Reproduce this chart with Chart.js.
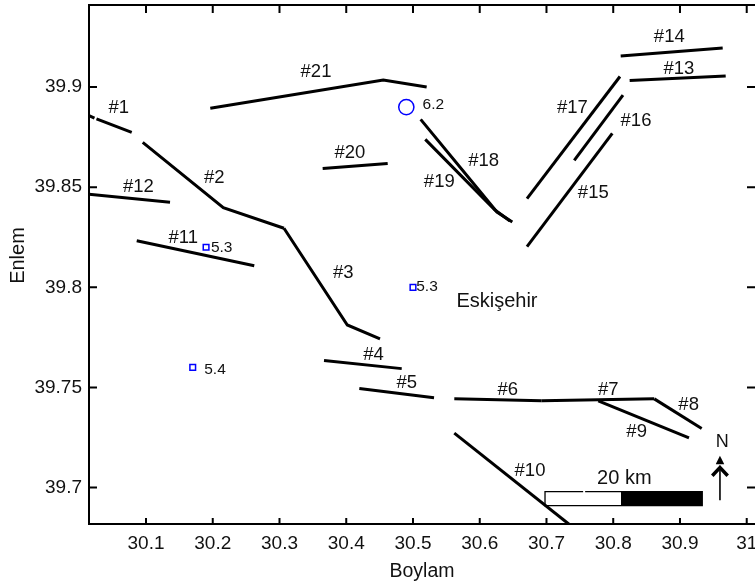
<!DOCTYPE html>
<html>

<head>
  <title>Eskisehir Faults</title>
  <script src="https://cdn.jsdelivr.net/npm/chart.js@4"></script>
  <style>
    html, body { margin: 0; padding: 0; background: #fff; }
    canvas { display: block; }
  </style>
</head>

<body>
  <canvas id="faultMap" width="755" height="583"></canvas>

  <script>
    const xTicks = [30.1, 30.2, 30.3, 30.4, 30.5, 30.6, 30.7, 30.8, 30.9, 31];
    const yTicks = [39.7, 39.75, 39.8, 39.85, 39.9];

    // fault traces, [boylam, enlem]; null leaves the small break in #1
    const fault1 = [[30.0146, 39.8857], [30.0228, 39.8845], [30.024, null], [30.0258, 39.8841], [30.0786, 39.8774]];
    const fault2 = [[30.0951, 39.8724], [30.2158, 39.8398], [30.3067, 39.8295]];
    const fault3 = [[30.3067, 39.8295], [30.4016, 39.7812], [30.4506, 39.7743]];
    const fault4 = [[30.3667, 39.7634], [30.4831, 39.7594]];
    const fault5 = [[30.4196, 39.7495], [30.5315, 39.7448]];
    const fault6 = [[30.5619, 39.7443], [30.6928, 39.7433]];
    const fault7 = [[30.6928, 39.7433], [30.7776, 39.7438], [30.8615, 39.7443]];
    const fault8 = [[30.8615, 39.7443], [30.9325, 39.7295]];
    const fault9 = [[30.7776, 39.7433], [30.9135, 39.7248]];
    const fault10 = [[30.5619, 39.7272], [30.7352, 39.6813]];
    const fault11 = [[30.0861, 39.8233], [30.2622, 39.8108]];
    const fault12 = [[30.0146, 39.8465], [30.136, 39.8425]];
    const fault13 = [[30.8246, 39.9033], [30.9685, 39.9055]];
    const fault14 = [[30.8112, 39.9155], [30.964, 39.9195]];
    const fault15 = [[30.6708, 39.8203], [30.7986, 39.8769]];
    const fault16 = [[30.7416, 39.8634], [30.8146, 39.896]];
    const fault17 = [[30.6708, 39.8443], [30.8101, 39.9053]];
    const fault18 = [[30.5115, 39.8839], [30.6258, 39.8376], [30.6488, 39.8326]];
    const fault19 = [[30.5184, 39.8739], [30.6229, 39.8386], [30.6453, 39.8331]];
    const fault20 = [[30.3647, 39.8594], [30.4621, 39.8619]];
    const fault21 = [[30.1963, 39.8894], [30.4555, 39.9035], [30.5205, 39.9001]];
    const faults = [fault1, fault2, fault3, fault4, fault5, fault6, fault7, fault8, fault9, fault10, fault11,
      fault12, fault13, fault14, fault15, fault16, fault17, fault18, fault19, fault20, fault21];

    // earthquakes
    const bigQuake = [[30.49, 39.89]];
    const smallQuakes = [[30.19, 39.82], [30.5, 39.8], [30.17, 39.76]];

    // scale bar and north arrow
    const barOutline = [[30.7579, 39.698], [30.9334, 39.698], [30.9334, 39.691], [30.6978, 39.691], [30.6978, 39.698], [30.7549, 39.698]];
    const barBlack = [[30.8116, 39.698], [30.9334, 39.698]];
    const barStreak = [[30.8116, 39.691], [30.9334, 39.698]];
    const arrowStem = [[30.9599, 39.6936], [30.9599, 39.7109]];
    const arrowHead = [[30.9535, 39.7117], [30.9599, 39.7159], [30.9664, 39.7117]];
    const arrowWings = [[30.9484, 39.7059], [30.9599, 39.71], [30.9715, 39.7059]];

    const faultNames = ['#1', '#2', '#3', '#4', '#5', '#6', '#7', '#8', '#9', '#10', '#11',
      '#12', '#13', '#14', '#15', '#16', '#17', '#18', '#19', '#20', '#21'];
    const faultNameAt = [[30.0591, 39.8894], [30.2023, 39.8544], [30.3956, 39.807], [30.4408, 39.7663],
      [30.4906, 39.7521], [30.6419, 39.7488], [30.7926, 39.7488], [30.913, 39.7415], [30.8351, 39.7277],
      [30.6753, 39.7082], [30.1559, 39.8245], [30.0885, 39.85], [30.8985, 39.9093], [30.884, 39.925],
      [30.7701, 39.847], [30.8341, 39.883], [30.7387, 39.8895], [30.6059, 39.8629], [30.5394, 39.8526],
      [30.4056, 39.8669], [30.3547, 39.9078]];
    const magnitudes = ['6.2', '5.3', '5.3', '5.4'];
    const magnitudeAt = [[30.5304, 39.8914], [30.2134, 39.8198], [30.521, 39.8002], [30.2034, 39.7591]];

    const line = (data, width) => ({
      data: data,
      borderColor: '#000',
      borderWidth: width,
      pointRadius: 0,
      borderCapStyle: 'butt',
      borderJoinStyle: 'miter',
      tension: 0,
      fill: false,
    });

    const datasets = faults.map(f => line(f, 3));
    datasets.push({ ...line(barBlack, 0), fill: { value: 39.691 }, backgroundColor: '#000' });
    datasets.push(line(barOutline, 1.3));
    datasets.push({ ...line(barStreak, 0.5), borderColor: '#999' });
    datasets.push(line(arrowStem, 1.6));
    datasets.push({ ...line(arrowHead, 0), fill: { value: 39.7117 }, backgroundColor: '#000' });
    datasets.push(line(arrowWings, 3.5));
    datasets.push({ data: bigQuake, showLine: false, pointStyle: 'circle', pointRadius: 7.6, borderColor: '#0000ff', borderWidth: 1.5, backgroundColor: 'transparent' });
    datasets.push({ data: smallQuakes, showLine: false, pointStyle: 'rect', pointRadius: 4, borderColor: '#0000ff', borderWidth: 1.5, backgroundColor: 'transparent' });

    const inwardTicks = {
      id: 'inwardTicks',
      afterDraw(chart) {
        const { ctx, chartArea: a, scales: { x, y } } = chart;
        ctx.save();
        ctx.strokeStyle = '#000';
        ctx.lineWidth = 2;
        ctx.beginPath();
        ctx.moveTo(a.left, a.top);
        ctx.lineTo(a.right, a.top);
        xTicks.forEach(v => {
          const p = x.getPixelForValue(v);
          ctx.moveTo(p, a.bottom); ctx.lineTo(p, a.bottom - 6);
          ctx.moveTo(p, a.top); ctx.lineTo(p, a.top + 8);
        });
        yTicks.forEach(v => {
          const p = y.getPixelForValue(v);
          ctx.moveTo(a.left, p); ctx.lineTo(a.left + 8, p);
          ctx.moveTo(a.right, p); ctx.lineTo(a.right - 8, p);
        });
        ctx.stroke();
        ctx.restore();
      }
    };

    const mapLabels = {
      id: 'mapLabels',
      afterDraw(chart) {
        const { ctx, scales: { x, y } } = chart;
        const put = (text, at, size) => {
          ctx.font = size + 'px "Liberation Sans"';
          ctx.fillText(text, x.getPixelForValue(at[0]), y.getPixelForValue(at[1]));
        };
        ctx.save();
        ctx.fillStyle = '#111';
        ctx.textAlign = 'center';
        ctx.textBaseline = 'middle';
        faultNames.forEach((t, i) => put(t, faultNameAt[i], 18.5));
        magnitudes.forEach((t, i) => put(t, magnitudeAt[i], 15.5));
        put('Eskişehir', [30.6258, 39.7927], 20);
        put('20 km', [30.8166, 39.7044], 20);
        put('N', [30.9634, 39.7226], 18);
        // y title sits above the middle of the axis
        ctx.translate(18, 255.5);
        ctx.rotate(-Math.PI / 2);
        ctx.font = '20px "Liberation Sans"';
        ctx.fillText('Enlem', 0, 0);
        ctx.restore();
      }
    };

    const tickFont = { family: '"Liberation Sans"', size: 19 };

    new Chart(document.getElementById('faultMap').getContext('2d'), {
      type: 'line',
      data: { datasets: datasets },
      plugins: [inwardTicks, mapLabels],
      options: {
        responsive: false,
        animation: false,
        layout: { autoPadding: false, padding: { top: 5, right: 0, left: 0, bottom: 0 } },
        plugins: { legend: { display: false }, tooltip: { enabled: false } },
        scales: {
          x: {
            type: 'linear',
            min: 30.0146,
            max: 31.0124,
            afterBuildTicks: s => { s.ticks = xTicks.map(v => ({ value: v })); },
            afterFit: s => { s.height = 59; s.paddingLeft = 0; s.paddingRight = 0; },
            grid: { drawOnChartArea: false, drawTicks: false },
            border: { color: '#000', width: 2 },
            ticks: { color: '#111', font: tickFont, padding: 8, maxRotation: 0, autoSkip: false, callback: v => String(v) },
            title: { display: true, text: 'Boylam', color: '#111', font: { family: '"Liberation Sans"', size: 19.5 }, padding: 0 },
          },
          y: {
            type: 'linear',
            min: 39.6818,
            max: 39.941,
            afterBuildTicks: s => { s.ticks = yTicks.map(v => ({ value: v })); },
            afterFit: s => { s.width = 89; s.paddingTop = 0; s.paddingBottom = 0; },
            grid: { drawOnChartArea: false, drawTicks: false },
            border: { color: '#000', width: 2 },
            ticks: { color: '#111', font: tickFont, padding: 7, autoSkip: false, callback: v => String(v) },
          },
        },
      },
    });
  </script>
</body>

</html>
